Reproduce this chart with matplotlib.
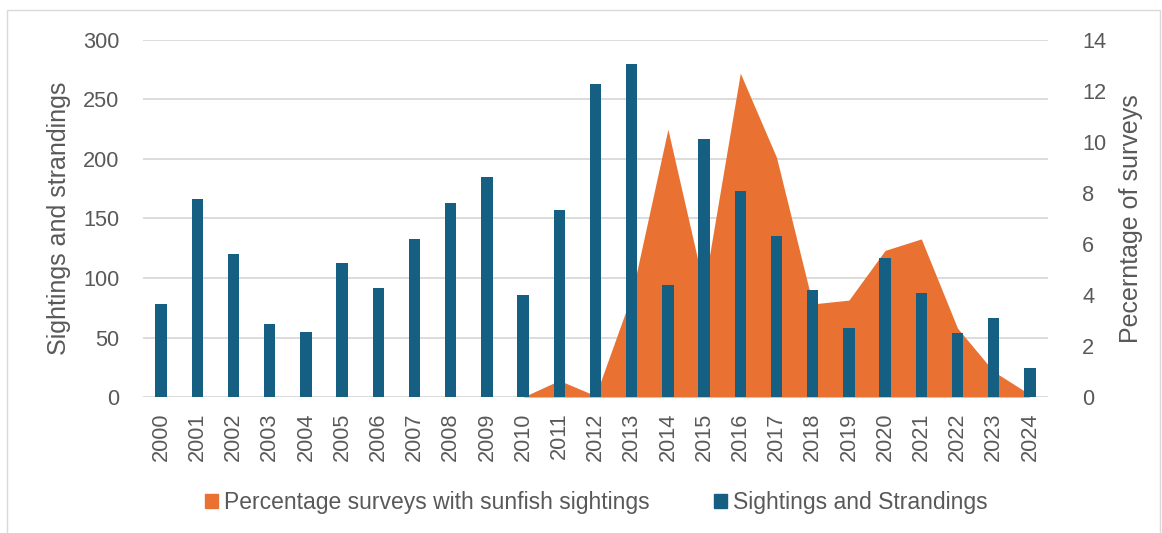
import matplotlib
matplotlib.use("Agg")
import matplotlib.pyplot as plt
from matplotlib.patches import Patch, Rectangle

plt.rcParams['font.family'] = ['Liberation Sans', 'DejaVu Sans']

years = [str(y) for y in range(2000, 2025)]
sightings = [78, 166, 120, 61, 55, 113, 92, 133, 163, 185,
             86, 157, 263, 280, 94, 217, 173, 135, 90, 58,
             117, 87, 54, 66, 24]
# percentage series starts in 2010
pct_years = years[10:]
pct_surveys = [0, 0.65, 0.05, 4.0, 10.5, 4.3, 12.7, 9.4, 3.65, 3.8,
               5.75, 6.2, 2.7, 1.0, 0.1]

blue = '#156082'
orange = '#E97132'
grey_txt = '#595959'
grid_col = '#D9D9D9'

fig = plt.figure(figsize=(11.62, 5.33), dpi=100)
rect = [143 / 1162, 1 - 397 / 533, (1048 - 143) / 1162, (397 - 40) / 533]

# background axes for gridlines only
gx = fig.add_axes(rect, zorder=0)
gx.set_ylim(0, 300)
gx.set_xlim(-0.5, len(years) - 0.5)
gx.set_yticks(range(0, 301, 50))
gx.yaxis.grid(True, color=grid_col, linewidth=1.3)
gx.set_xticks([])
gx.tick_params(left=False, labelleft=False)
for s in gx.spines.values():
    s.set_visible(False)

# area on the right axis
ax2 = fig.add_axes(rect, zorder=1)
ax2.patch.set_visible(False)
xi = [years.index(y) for y in pct_years]
ax2.fill_between(xi, pct_surveys, 0, color=orange, linewidth=0)
ax2.set_xlim(-0.5, len(years) - 0.5)
ax2.set_ylim(0, 14)
ax2.set_yticks(range(0, 15, 2))
ax2.yaxis.tick_right()
ax2.yaxis.set_label_position('right')
ax2.set_xticks([])
ax2.tick_params(axis='y', right=False, labelsize=15.7, labelcolor=grey_txt, pad=21)
ax2.set_ylabel('Pecerntage of surveys', fontsize=18, color=grey_txt, labelpad=9)
for s in ax2.spines.values():
    s.set_visible(False)

# bars on the left axis, on top
ax = fig.add_axes(rect, zorder=2)
ax.patch.set_visible(False)
ax.bar(range(len(years)), sightings, width=0.31, color=blue)
ax.set_xlim(-0.5, len(years) - 0.5)
ax.set_ylim(0, 300)
ax.set_yticks(range(0, 301, 50))
ax.set_xticks(range(len(years)))
ax.set_xticklabels(years, rotation=90)
ax.tick_params(axis='both', length=0, labelsize=15.7, labelcolor=grey_txt)
ax.tick_params(axis='y', pad=17)
ax.tick_params(axis='x', pad=11)
ax.set_ylabel('Sightings and strandings', fontsize=18, color=grey_txt, labelpad=9)
for s in ax.spines.values():
    s.set_visible(False)

handles = [Patch(color=orange, label='Percentage surveys with sunfish sightings'),
           Patch(color=blue, label='Sightings and Strandings')]
fig.legend(handles=handles, loc='center', bbox_to_anchor=(0.513, 1 - 503 / 533),
           ncol=2, frameon=False, fontsize=16.5, labelcolor=grey_txt,
           handlelength=0.57, handleheight=0.57, handletextpad=0.26, columnspacing=2.8)

fig.patches.append(Rectangle((7 / 1162, -0.01), (1160 - 7) / 1162, 1 - 10 / 533 + 0.01,
                             transform=fig.transFigure, fill=False,
                             edgecolor=grid_col, linewidth=1))

fig.savefig('out.png', dpi=100)
